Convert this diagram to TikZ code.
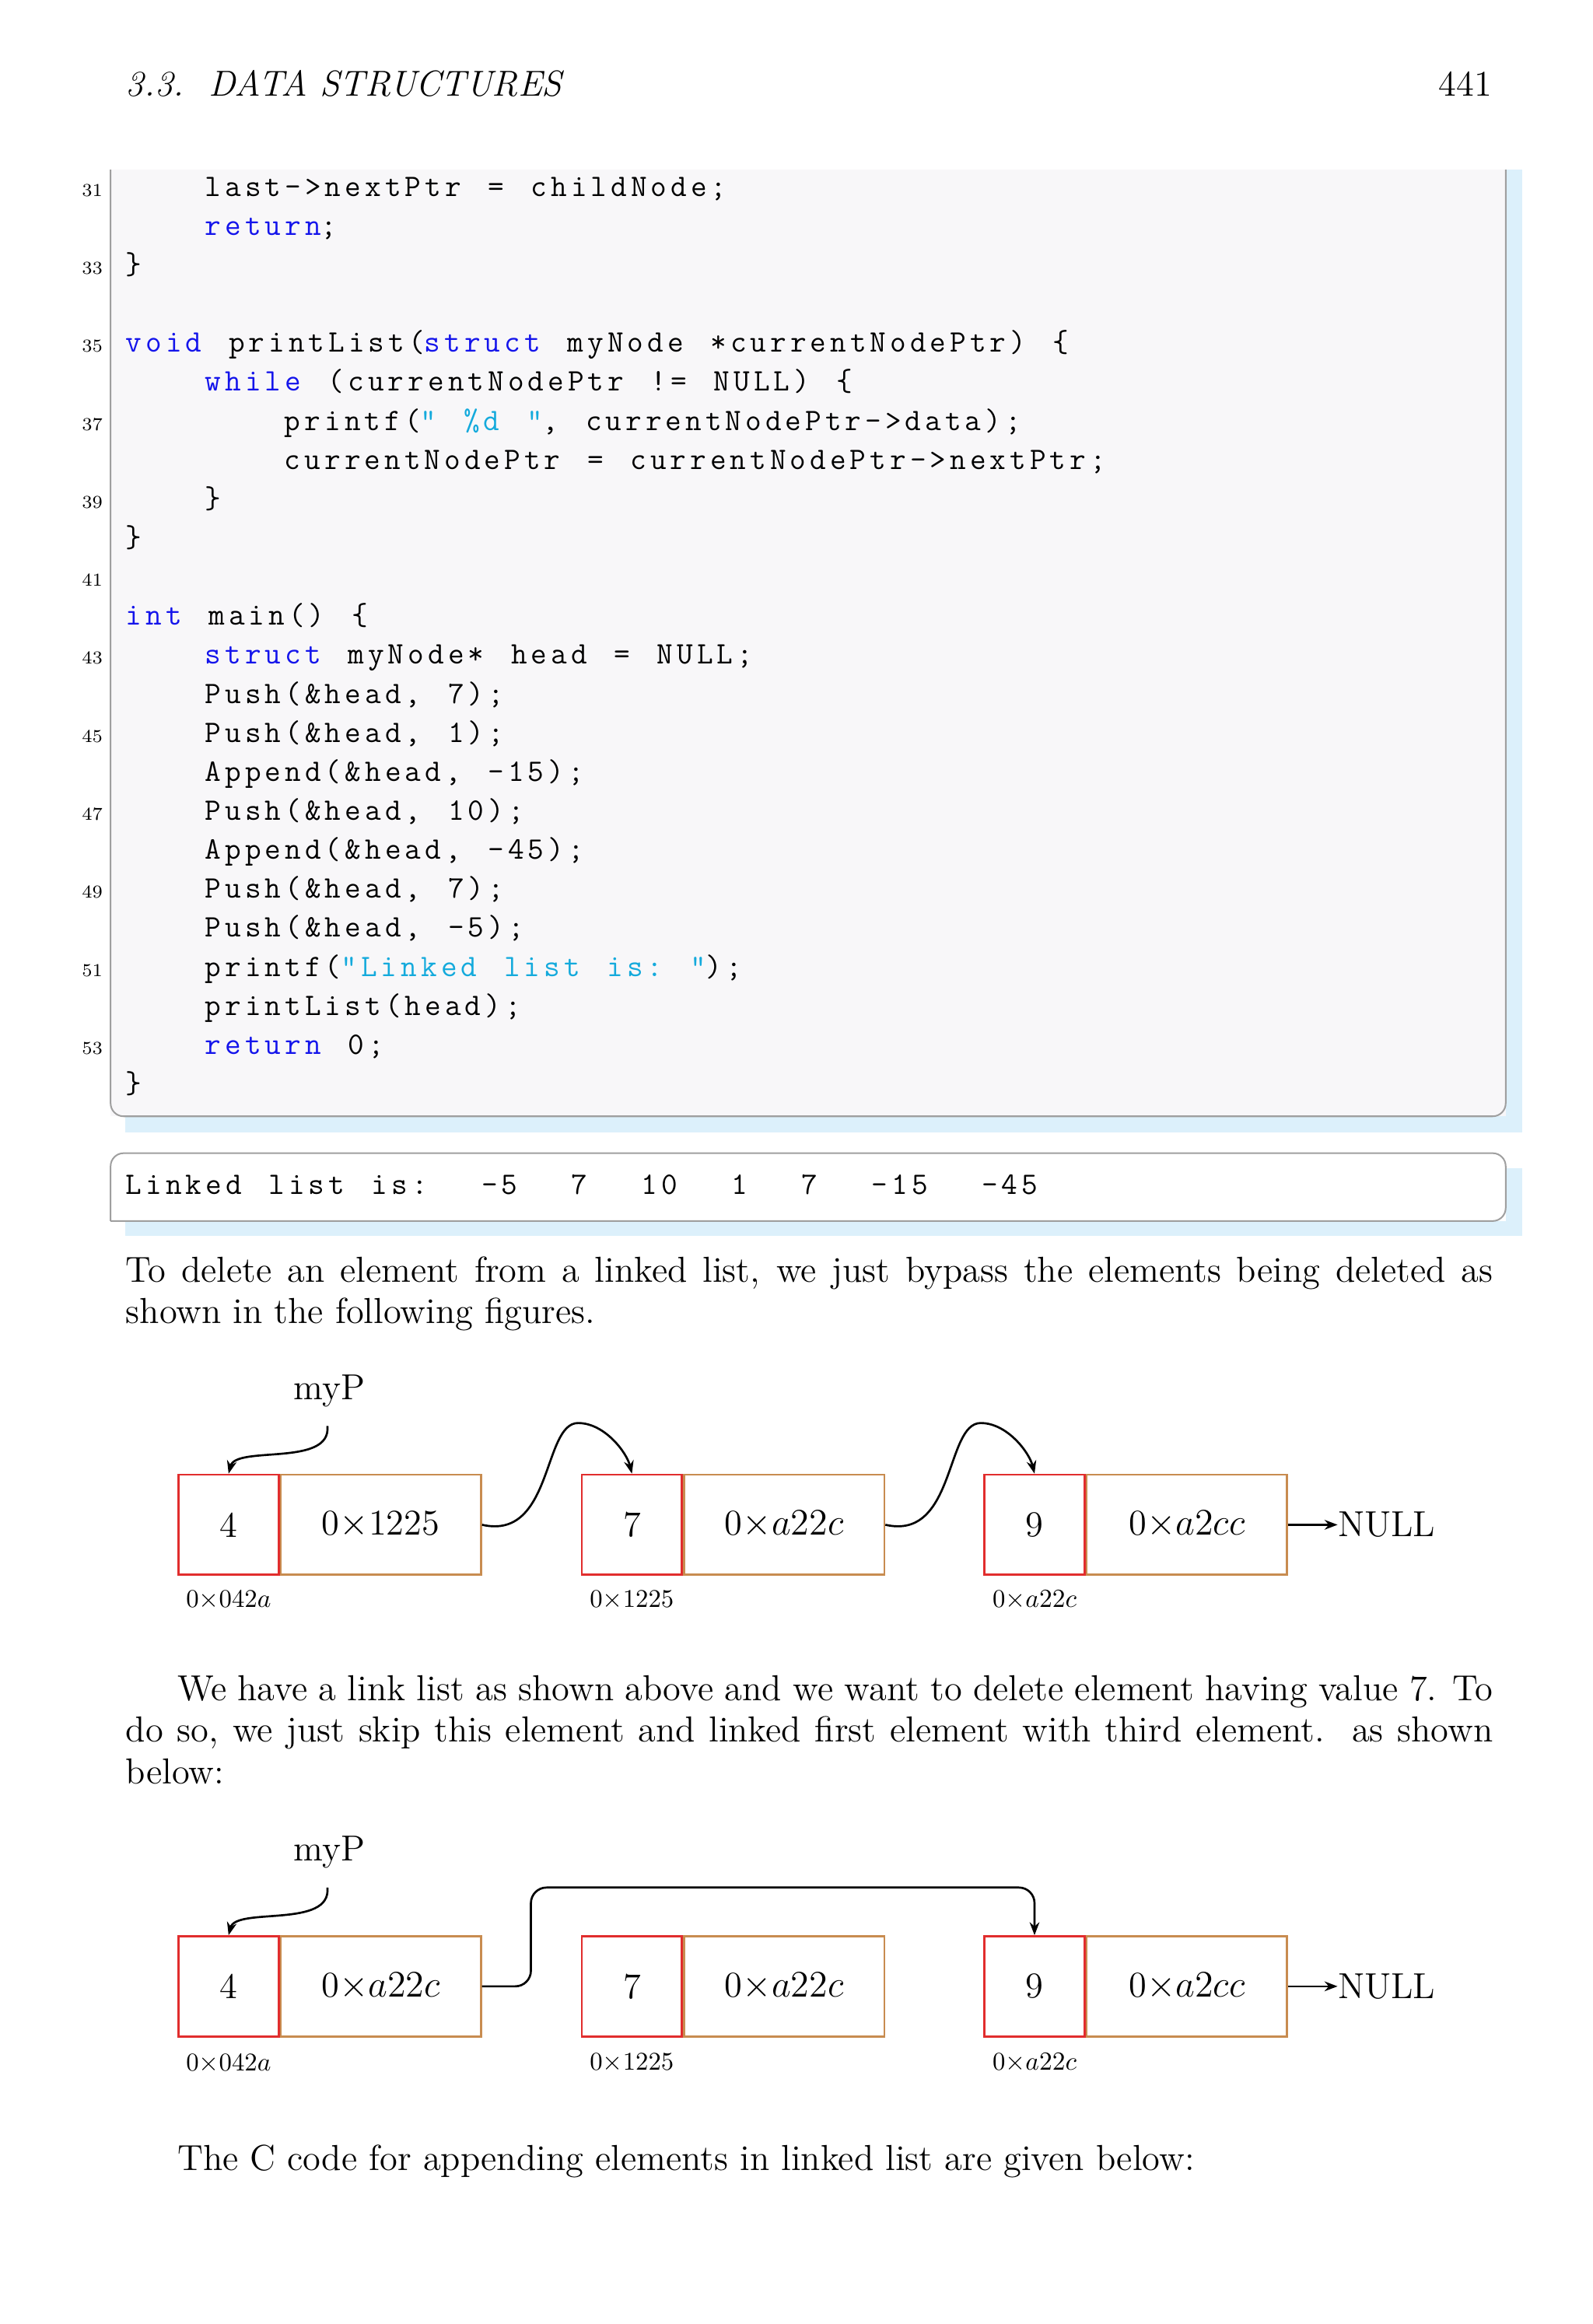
\documentclass[tikz,border=0pt]{standalone}
\usepackage{fontspec}
\newfontfamily\codefont[LetterSpace=12.5,WordSpace=1.35]{Latin Modern Mono}
\usetikzlibrary{arrows.meta}
\definecolor{kw}{RGB}{20,20,235}
\definecolor{str}{RGB}{20,170,220}
\definecolor{shadowc}{RGB}{220,240,251}
\definecolor{codebg}{RGB}{248,247,249}
\definecolor{boxred}{RGB}{225,45,45}
\definecolor{boxor}{RGB}{200,140,80}
\newcommand{\kw}[1]{\textcolor{kw}{#1}}
\newcommand{\st}[1]{\textcolor{str}{#1}}
\tikzset{
  code/.style={anchor=base west,inner sep=0pt,font=\fontsize{12}{14}\codefont},
  lno/.style={anchor=base east,inner sep=0pt,font=\fontsize{7}{8}\selectfont},
  body/.style={anchor=base west,inner sep=0pt,font=\fontsize{13.9}{15.9}\selectfont},
  para/.style={anchor=north west,inner sep=0pt,text width=525.6pt,align=justify,font=\fontsize{13.9}{15.9}\selectfont},
  valbox/.style={draw=boxred,thick,minimum width=38.5pt,minimum height=38.5pt,inner sep=0pt,font=\fontsize{13.9}{16}\selectfont},
  ptrbox/.style={draw=boxor,thick,minimum width=77pt,minimum height=38.5pt,inner sep=0pt,font=\fontsize{13.9}{16}\selectfont},
  addr/.style={inner sep=0pt,font=\fontsize{9.8}{11}\selectfont},
  link/.style={thick,-{Stealth[length=5pt]}},
  frameline/.style={draw=gray!75,line width=0.6pt},
}
\begin{document}
\begin{tikzpicture}[x=0.567pt,y=-0.567pt]
\useasboundingbox (0,0) rectangle (1080,1576);
\fill[white] (0,0) rectangle (1080,1576);
% header
\node[body,font=\fontsize{13.9}{16}\itshape] (hdr) at (85,65) {3.3.\ \ DATA STRUCTURES};
\node[anchor=base east,inner sep=0pt,font=\fontsize{13.9}{16}\selectfont] (pg) at (1012,65) {441};
% code box
\fill[shadowc] (85,115) rectangle (1032,768);
\fill[codebg] (75,115) rectangle (1021,757);
\draw[frameline,rounded corners=5pt] (75,115) -- (75,757) -- (1021,757) -- (1021,115);
\foreach \n in {31,33,...,53}{
  \node[lno] (ln\n) at (70,{133+(\n-31)*26.45}) {\n};
}
\def\cx#1{85+#1*13.46}
\node[code] (c31) at ({\cx4},133) {last->nextPtr = childNode;};
\node[code] (c32) at ({\cx4},159.45) {\kw{return};};
\node[code] (c33) at ({\cx0},185.9) {\}};
\node[code] (c35) at ({\cx0},238.8) {\kw{void} printList(\kw{struct} myNode *currentNodePtr) \{};
\node[code] (c36) at ({\cx4},265.25) {\kw{while} (currentNodePtr != NULL) \{};
\node[code] (c37) at ({\cx8},291.7) {printf(\st{"\ \%d\ "}, currentNodePtr->data);};
\node[code] (c38) at ({\cx8},318.15) {currentNodePtr = currentNodePtr->nextPtr;};
\node[code] (c39) at ({\cx4},344.6) {\}};
\node[code] (c40) at ({\cx0},371.05) {\}};
\node[code] (c42) at ({\cx0},423.95) {\kw{int} main() \{};
\node[code] (c43) at ({\cx4},450.4) {\kw{struct} myNode* head = NULL;};
\node[code] (c44) at ({\cx4},476.85) {Push(\&head, 7);};
\node[code] (c45) at ({\cx4},503.3) {Push(\&head, 1);};
\node[code] (c46) at ({\cx4},529.75) {Append(\&head, -15);};
\node[code] (c47) at ({\cx4},556.2) {Push(\&head, 10);};
\node[code] (c48) at ({\cx4},582.65) {Append(\&head, -45);};
\node[code] (c49) at ({\cx4},609.1) {Push(\&head, 7);};
\node[code] (c50) at ({\cx4},635.55) {Push(\&head, -5);};
\node[code] (c51) at ({\cx4},662) {printf(\st{"Linked list is:\ "});};
\node[code] (c52) at ({\cx4},688.45) {printList(head);};
\node[code] (c53) at ({\cx4},714.9) {\kw{return} 0;};
\node[code] (c54) at ({\cx0},741.35) {\}};
% output box
\fill[shadowc] (85,792) rectangle (1032,838);
\fill[white] (75,782) rectangle (1021,828);
\draw[frameline,rounded corners=5pt] (75,828) -- (75,782) -- (1021,782) -- (1021,828) -- (75,828);
\node[code] (out) at ({\cx0},810) {Linked list is:\ \ -5\ \ 7\ \ 10\ \ 1\ \ 7\ \ -15\ \ -45};
% paragraph 1
\node[para] (p1) at (85,852) {To delete an element from a linked list, we just bypass the elements being deleted as\linebreak shown in the following figures.};
% diagram 1
\node[body] (myp1) at (199,949) {myP};
\node[valbox] (a1) at (155,1034) {4};
\node[ptrbox,anchor=west] (a1p) at (a1.east) {0$\times$1225};
\node[valbox] (b1) at (428.5,1034) {7};
\node[ptrbox,anchor=west] (b1p) at (b1.east) {0$\times a22c$};
\node[valbox] (d1) at (701.5,1034) {9};
\node[ptrbox,anchor=west] (d1p) at (d1.east) {0$\times a2cc$};
\node[body,anchor=west] (null1) at (907,1034) {NULL};
\node[addr] (aa1) at (155,1085) {0$\times$042$a$};
\node[addr] (ab1) at (428.5,1085) {0$\times$1225};
\node[addr] (ad1) at (701.5,1085) {0$\times a22c$};
\draw[link] (222,967) .. controls (225,995) and (160,980) .. (a1.north);
\draw[link] (a1p.east) .. controls (375,1045) and (368,965) .. (392,965) .. controls (410,965) and (425,985) .. (b1.north);
\draw[link] (b1p.east) .. controls (648,1045) and (641,965) .. (665,965) .. controls (683,965) and (698,985) .. (d1.north);
\draw[link] (d1p.east) -- (null1.west);
% paragraph 2
\node[para] (p2) at (85,1136) {\hspace*{19.8pt}We have a link list as shown above and we want to delete element having value 7. To\linebreak do so, we just skip this element and linked first element with third element.\ \ as shown\linebreak below:};
% diagram 2
\node[body] (myp2) at (199,1262) {myP};
\node[valbox] (a2) at (155,1347) {4};
\node[ptrbox,anchor=west] (a2p) at (a2.east) {0$\times a22c$};
\node[valbox] (b2) at (428.5,1347) {7};
\node[ptrbox,anchor=west] (b2p) at (b2.east) {0$\times a22c$};
\node[valbox] (d2) at (701.5,1347) {9};
\node[ptrbox,anchor=west] (d2p) at (d2.east) {0$\times a2cc$};
\node[body,anchor=west] (null2) at (907,1347) {NULL};
\node[addr] (aa2) at (155,1399) {0$\times$042$a$};
\node[addr] (ab2) at (428.5,1399) {0$\times$1225};
\node[addr] (ad2) at (701.5,1399) {0$\times a22c$};
\draw[link] (222,1280) .. controls (225,1308) and (160,1293) .. (a2.north);
\draw[link,rounded corners=6pt] (a2p.east) -- (360,1347) -- (360,1280) -- (701.5,1280) -- (d2.north);
\draw[link] (d2p.east) -- (null2.west);
% final line
\node[body] (p3) at (120,1472) {The C code for appending elements in linked list are given below:};
\end{tikzpicture}
\end{document}
